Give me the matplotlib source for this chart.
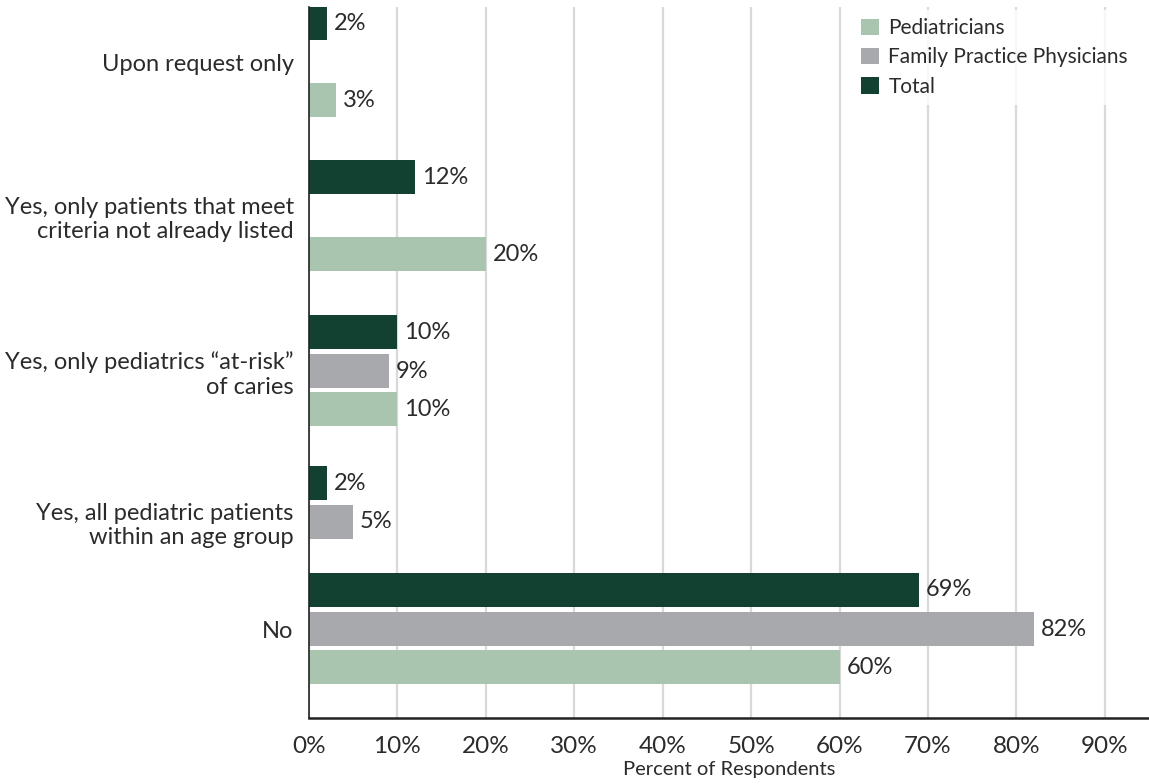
import numpy as np
import matplotlib
matplotlib.use("Agg")
from matplotlib import pyplot as plt
from matplotlib.patches import Patch

plt.rcParams['font.family'] = ['Lato', 'DejaVu Sans']

# Survey answers, top to bottom
categories = [
    "Upon request only",
    "Yes, only patients that meet\ncriteria not already listed",
    "Yes, only pediatrics \u201cat-risk\u201d\nof caries",
    "Yes, all pediatric patients\nwithin an age group",
    "No",
]

# Percent of respondents (nan = no bar shown)
total = [2, 12, 10, 2, 69]
family_practice = [np.nan, np.nan, 9, 5, 82]
pediatricians = [3, 20, 10, np.nan, 60]

x_ticks = [0, 10, 20, 30, 40, 50, 60, 70, 80, 90]
legend_order = ["Pediatricians", "Family Practice Physicians", "Total"]

# layout: vertical centre of each group (axis units run top -> bottom)
group_y = np.array([62, 216, 371, 522, 629])
bar_h = 34
offsets = {"Total": -39, "Family Practice Physicians": 0, "Pediatricians": 38}

colors = {
    "Pediatricians": "#a9c4af",
    "Family Practice Physicians": "#a8a9ad",
    "Total": "#124132",
}
text_color = "#2b2b2b"

fig = plt.figure(figsize=(11.49, 7.84), dpi=100)
ax = fig.add_axes([309 / 1149, 66 / 784, 840 / 1149, 711 / 784])

series = [
    ("Total", total),
    ("Family Practice Physicians", family_practice),
    ("Pediatricians", pediatricians),
]
for name, vals in series:
    vals = np.array(vals, dtype=float)
    ys = group_y + offsets[name]
    ok = ~np.isnan(vals)
    ax.barh(ys[ok], vals[ok], height=bar_h, color=colors[name], zorder=3)
    for y, v in zip(ys[ok], vals[ok]):
        ax.annotate(f"{v:.0f}%", (v, y), xytext=(5, 0), textcoords="offset points",
                    va="center", ha="left", fontsize=17, color=text_color)

ax.set_xlim(0, 95)
ax.set_ylim(718, 7)
ax.set_xticks(x_ticks)
ax.set_xticklabels([f"{t}%" for t in x_ticks], fontsize=17.5, color=text_color)
ax.set_yticks(group_y)
ax.set_yticklabels(categories, fontsize=17, color=text_color)
ax.tick_params(axis="both", length=0)
ax.tick_params(axis="x", pad=13)
ax.tick_params(axis="y", pad=11)

ax.xaxis.grid(True, color="#d9d9d9", linewidth=1.6, zorder=0)
ax.set_axisbelow(True)
for s in ["top", "right"]:
    ax.spines[s].set_visible(False)
ax.spines["left"].set_color("#222222")
ax.spines["left"].set_linewidth(1.2)
ax.spines["bottom"].set_color("#222222")
ax.spines["bottom"].set_linewidth(1.8)
ax.spines["left"].set_zorder(4)

ax.set_xlabel("Percent of Respondents", fontsize=14.5, color=text_color, labelpad=3)

handles = [Patch(facecolor=colors[n], edgecolor="none") for n in legend_order]
leg = ax.legend(handles, legend_order,
                loc="upper left", bbox_to_anchor=(0.64, 1.005), frameon=True,
                facecolor="white", edgecolor="none", fontsize=15,
                handlelength=0.85, handleheight=0.85, handletextpad=0.45,
                labelspacing=0.45, borderaxespad=0.3)
for t in leg.get_texts():
    t.set_color(text_color)

fig.savefig("out.png", dpi=100)
